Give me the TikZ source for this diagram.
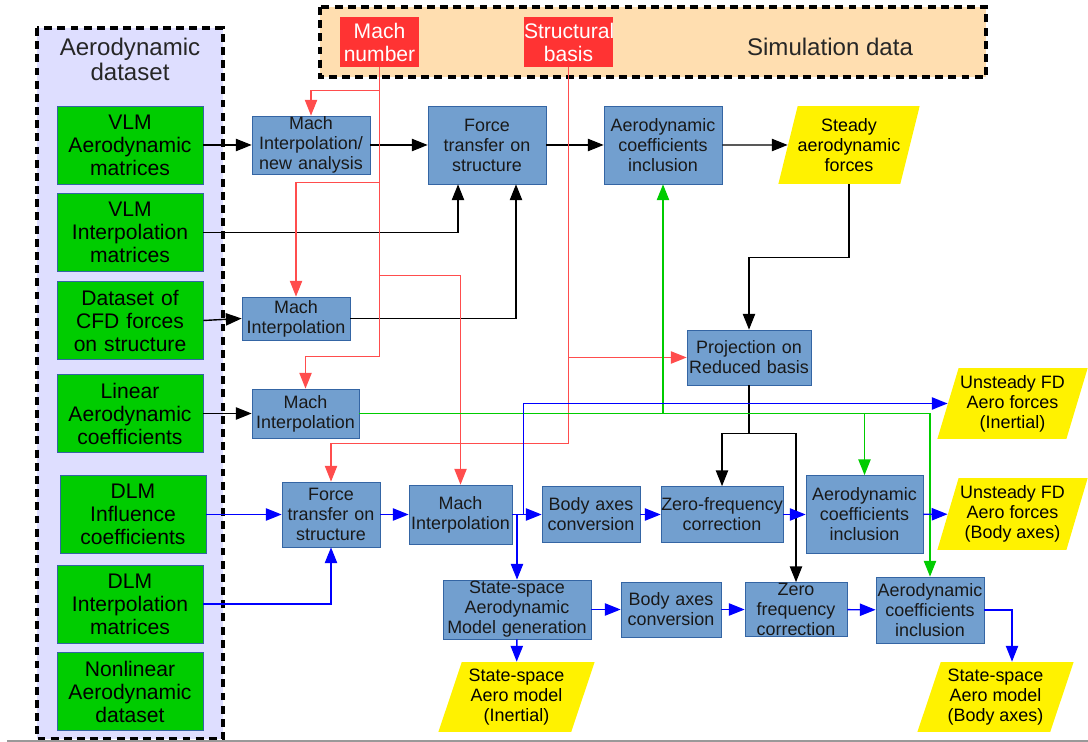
\documentclass[tikz,border=0pt]{standalone}
\usepackage{fontspec}
\setmainfont{Liberation Sans}
\usetikzlibrary{arrows.meta,shapes.geometric}

\definecolor{frameLilac}{RGB}{222,222,255}
\definecolor{framePeach}{RGB}{255,222,176}
\definecolor{dataGreen}{RGB}{0,204,0}
\definecolor{stepBlue}{RGB}{114,159,207}
\definecolor{stepEdge}{RGB}{52,101,164}
\definecolor{inputRed}{RGB}{255,51,51}
\definecolor{lineRed}{RGB}{255,77,77}

\begin{document}
\begin{tikzpicture}[
 x=0.02cm,y=-0.02cm,
 >={Triangle[length=9pt,width=7pt]},
 every node/.style={font=\fontsize{10.2}{11.4}\selectfont},
 dashframe/.style={line width=2.1pt,dash pattern=on 4.5pt off 3pt},
 heading/.style={align=center,text=black!85,font=\fontsize{13.7}{14.2}\selectfont},
 dataset/.style={draw=stepEdge,fill=dataGreen,align=center,inner sep=0pt,
  text width=2.92cm,minimum height=1.56cm,font=\fontsize{12}{13.1}\selectfont},
 inputbox/.style={fill=inputRed,text=white,align=center,inner sep=0pt,
  minimum height=1.0cm,font=\fontsize{12}{13.1}\selectfont},
 stepbox/.style={draw=stepEdge,fill=stepBlue,align=center,inner sep=0pt,text=black!90},
 resultbox/.style={trapezium,trapezium left angle=70,trapezium right angle=110,
  trapezium stretches=true,fill=yellow,align=center,inner sep=0pt},
 blackflow/.style={->,line width=0.8pt},
 redflow/.style={->,draw=lineRed,line width=0.7pt},
 greenflow/.style={->,draw=dataGreen,line width=0.8pt},
 blueflow/.style={->,draw=blue,line width=0.8pt}
]
 \useasboundingbox (0,0) rectangle (1088,742);

 % containers
 \draw[dashframe,fill=frameLilac] (37,28) rectangle (223,739);
 \draw[dashframe,fill=framePeach] (320,7) rectangle (986,77);
 \node[heading] (aerotitle) at (130,59.5) {Aerodynamic\\dataset};
 \node[heading] (simtitle) at (830,47) {Simulation data};

 % aerodynamic dataset
 \node[dataset] (vlmaero) at (130,145) {VLM\\Aerodynamic\\matrices};
 \node[dataset] (vlminterp) at (130,232.5) {VLM\\Interpolation\\matrices};
 \node[dataset] (cfdforces) at (130,320.5) {Dataset of\\CFD forces\\on structure};
 \node[dataset] (linaero) at (130,413.5) {Linear\\Aerodynamic\\coefficients};
 \node[dataset] (dlminfl) at (133,514.5) {DLM\\Influence\\coefficients};
 \node[dataset] (dlminterp) at (130,604) {DLM\\Interpolation\\matrices};
 \node[dataset] (nonlin) at (130,691.5) {Nonlinear\\Aerodynamic\\dataset};

 % simulation data
 \node[inputbox,text width=1.58cm] (mach) at (379.5,42) {Mach\\number};
 \node[inputbox,text width=1.78cm] (structbasis) at (568.5,42) {Structural\\basis};

 % processing steps
 \node[stepbox,text width=2.36cm,minimum height=1.16cm] (machnew) at (311,145)
  {Mach\\Interpolation/\\new analysis};
 \node[stepbox,text width=2.36cm,minimum height=1.56cm] (forcetop) at (487,145)
  {Force\\transfer on\\structure};
 \node[stepbox,text width=2.36cm,minimum height=1.56cm] (coeftop) at (663,145)
  {Aerodynamic\\coefficients\\inclusion};
 \node[stepbox,text width=2.16cm,minimum height=0.86cm] (machcfd) at (296,318.5)
  {Mach\\Interpolation};
 \node[stepbox,text width=2.14cm,minimum height=0.98cm] (machlin) at (305.5,413.5)
  {Mach\\Interpolation};
 \node[stepbox,text width=2.48cm,minimum height=1.1cm] (projection) at (749,357.5)
  {Projection on\\Reduced basis};
 \node[stepbox,text width=1.96cm,minimum height=1.3cm] (forcebot) at (331,514.5)
  {Force\\transfer on\\structure};
 \node[stepbox,text width=2.06cm,minimum height=1.18cm] (machbot) at (460.5,514.5)
  {Mach\\Interpolation};
 \node[stepbox,text width=1.96cm,minimum height=1.12cm] (bodyaxes) at (591,514.5)
  {Body axes\\conversion};
 \node[stepbox,text width=2.44cm,minimum height=1.12cm] (zerofreq) at (722,514.5)
  {Zero-frequency\\correction};
 \node[stepbox,text width=2.34cm,minimum height=1.56cm] (coefmid) at (864.5,514.5)
  {Aerodynamic\\coefficients\\inclusion};
 \node[stepbox,text width=2.96cm,minimum height=1.18cm] (ssgen) at (517,609.5)
  {State-space\\Aerodynamic\\Model generation};
 \node[stepbox,text width=2.0cm,minimum height=1.1cm] (bodyaxesss) at (671,609.5)
  {Body axes\\conversion};
 \node[stepbox,text width=2.04cm,minimum height=1.08cm] (zerofreqss) at (796,609.5)
  {Zero\\frequency\\correction};
 \node[stepbox,text width=2.16cm,minimum height=1.32cm] (coefbot) at (930,610)
  {Aerodynamic\\coefficients\\inclusion};

 % outputs
 \node[resultbox,minimum width=2.76cm,minimum height=1.56cm] (steady) at (849,145)
  {Steady\\aerodynamic\\forces};
 \node[resultbox,minimum width=3.02cm,minimum height=1.42cm] (unsteadyin) at (1012.5,403.5)
  {Unsteady FD\\Aero forces\\(Inertial)};
 \node[resultbox,minimum width=3.02cm,minimum height=1.44cm] (unsteadybody) at (1012.5,514)
  {Unsteady FD\\Aero forces\\(Body axes)};
 \node[resultbox,minimum width=3.14cm,minimum height=1.4cm] (ssinertial) at (516.5,697)
  {State-space\\Aero model\\(Inertial)};
 \node[resultbox,minimum width=3.14cm,minimum height=1.4cm] (ssbody) at (995.5,697)
  {State-space\\Aero model\\(Body axes)};

 % steady branch
 \draw[blackflow] (vlmaero) -- (machnew);
 \draw[blackflow] (machnew) -- (forcetop);
 \draw[blackflow] (forcetop) -- (coeftop);
 \draw[blackflow] (coeftop) -- (steady);
 \draw[blackflow] (vlminterp.east) -| ([xshift=-0.58cm]forcetop.south);
 \draw[blackflow] (cfdforces.east) -- (machcfd.west);
 \draw[blackflow] (machcfd.east) -| ([xshift=0.58cm]forcetop.south);
 \draw[blackflow] (linaero) -- (machlin);
 \draw[blackflow] (steady.south) -- ++(0,73) -| (projection.north);
 \draw[blackflow] (projection.south) -- ++(0,48) coordinate (projfork) -| (zerofreq.north);
 \draw[blackflow] (projfork) -| (zerofreqss.north);

 % mach number and structural basis
 \draw[redflow] (mach.south) -- ++(0,289) -| (machlin.north);
 \draw[redflow] (mach.south) ++(0,23) -| (machnew.north);
 \draw[redflow] (mach.south) ++(0,115) -| (machcfd.north);
 \draw[redflow] (mach.south) ++(0,208) -| (machbot.north);
 \draw[redflow] (structbasis.south) -- ++(0,376) -| (forcebot.north);
 \draw[redflow] (structbasis.south |- projection.west) -- (projection.west);

 % linear coefficients
 \draw[greenflow] (machlin.east) -| (coefbot.north);
 \draw[greenflow] (machlin.east -| coeftop.south) -- (coeftop.south);
 \draw[greenflow] (machlin.east -| coefmid.north) -- (coefmid.north);

 % unsteady branch
 \draw[blueflow] (dlminfl) -- (forcebot);
 \draw[blueflow] (dlminterp.east) -| (forcebot.south);
 \draw[blueflow] (forcebot) -- (machbot);
 \draw[blueflow] (machbot) -- (bodyaxes);
 \draw[blueflow] (machbot.east -| ssgen.north) -- (ssgen.north);
 \draw[blueflow] (machbot.east) ++(11,0) |- (unsteadyin);
 \draw[blueflow] (bodyaxes) -- (zerofreq);
 \draw[blueflow] (zerofreq) -- (coefmid);
 \draw[blueflow] (coefmid) -- (unsteadybody);
 \draw[blueflow] (ssgen) -- (bodyaxesss);
 \draw[blueflow] (bodyaxesss) -- (zerofreqss);
 \draw[blueflow] (zerofreqss) -- (coefbot);
 \draw[blueflow] (ssgen) -- (ssinertial);
 \draw[blueflow] (coefbot.east) -| ([xshift=0.33cm]ssbody.north);

 \draw[black!40,line width=0.8pt] (7,741) -- (1088,741);
\end{tikzpicture}
\end{document}
